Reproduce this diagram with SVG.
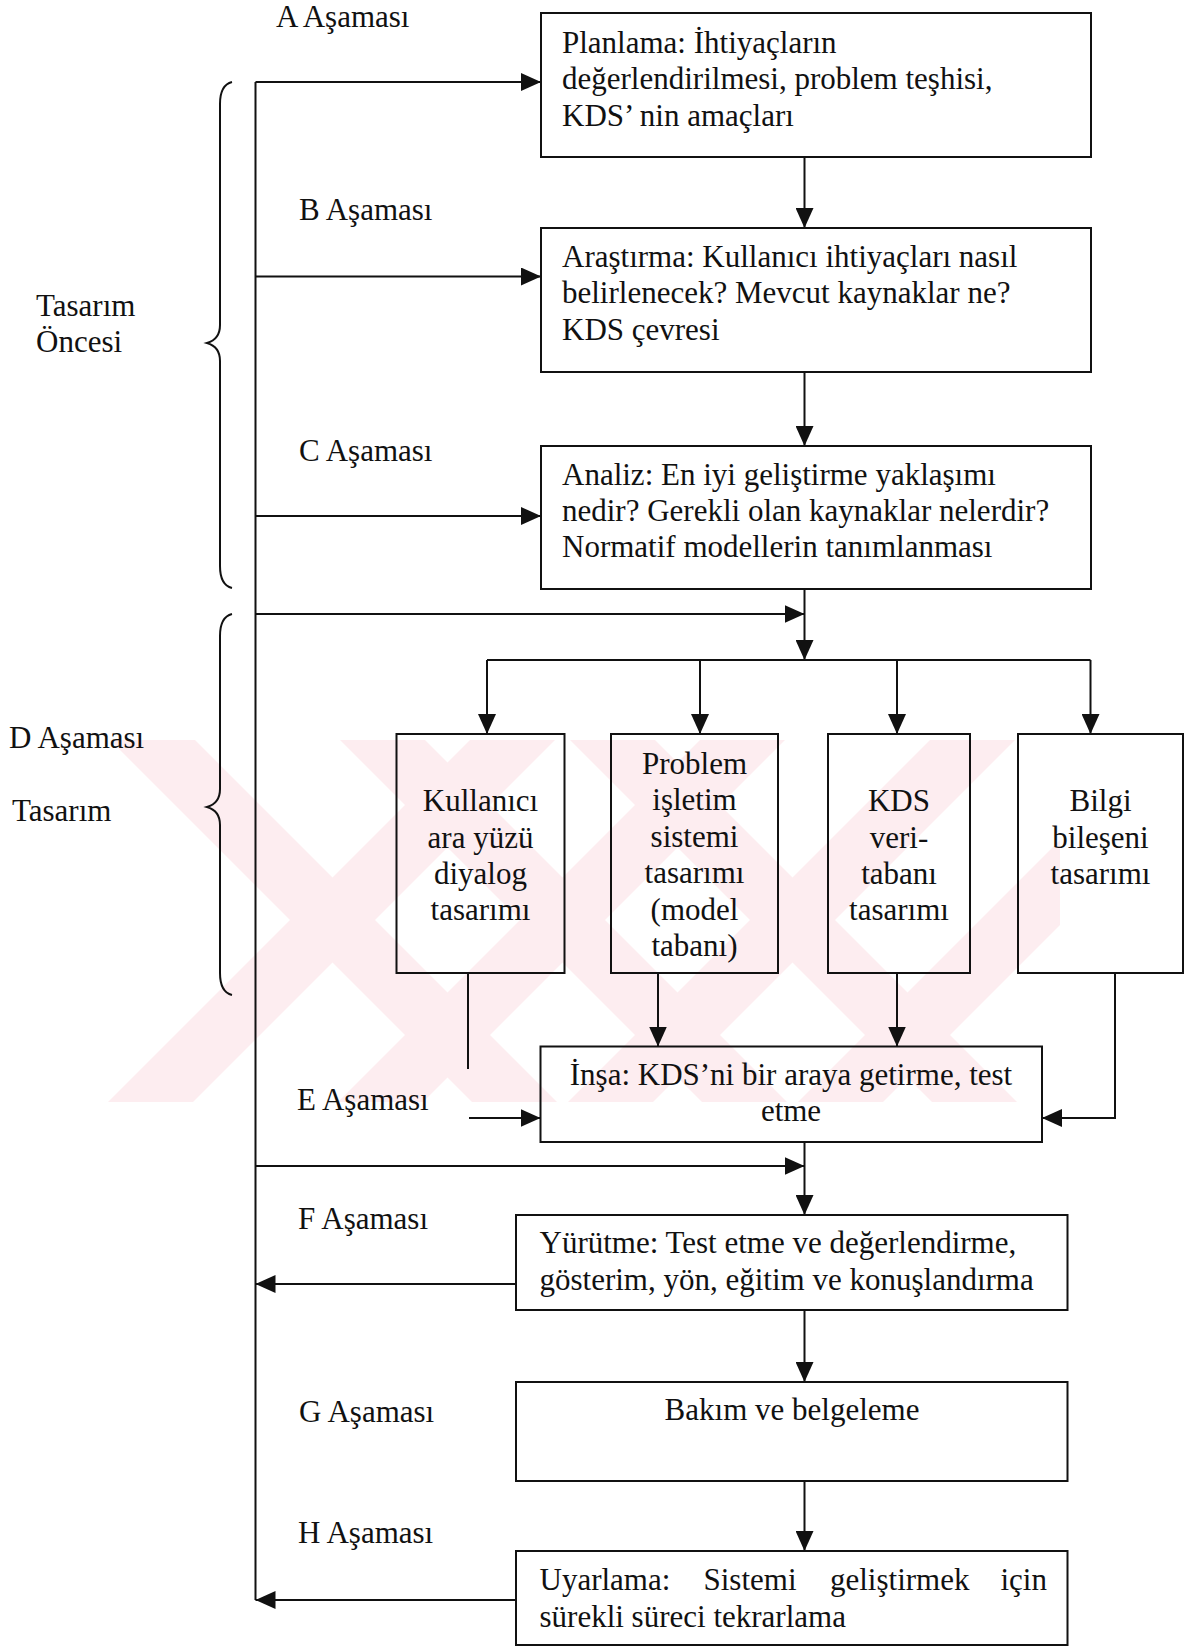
<svg xmlns="http://www.w3.org/2000/svg" width="1200" height="1649" viewBox="0 0 1200 1649">
<defs>
<style>
text{font-family:"Liberation Serif","Times New Roman",serif;font-size:31px;fill:#111}
.c{text-anchor:middle}
.box{fill:none;stroke:#111;stroke-width:2}
.ln{fill:none;stroke:#111;stroke-width:2}
.wm{fill:#fdedf0}
</style>
<marker id="ah" markerUnits="userSpaceOnUse" markerWidth="21" markerHeight="18" refX="20" refY="9" orient="auto">
<path d="M0,0 L20,9 L0,18 z" fill="#111"/>
</marker>
<clipPath id="wmclip"><rect x="100" y="740" width="960" height="362"/></clipPath>
</defs>
<rect width="1200" height="1649" fill="#fff"/>
<g id="watermark" clip-path="url(#wmclip)">
<polygon class="wm" points="110,740 195,740 557,1102 472,1102"/>
<polygon class="wm" points="340,740 425,740 787,1102 702,1102"/>
<polygon class="wm" points="570,740 655,740 1017,1102 932,1102"/>
<polygon class="wm" points="470,740 555,740 193,1102 108,1102"/>
<polygon class="wm" points="700,740 785,740 423,1102 338,1102"/>
<polygon class="wm" points="930,740 1015,740 653,1102 568,1102"/>
<polygon class="wm" points="1160,740 1245,740 883,1102 798,1102"/>
</g>
<g id="labels">
<text x="276" y="27">A Aşaması</text>
<text x="299" y="220">B Aşaması</text>
<text x="299" y="461">C Aşaması</text>
<text x="9" y="748">D Aşaması</text>
<text x="12" y="821">Tasarım</text>
<text x="36" y="316">Tasarım</text>
<text x="36" y="352">Öncesi</text>
<text x="297" y="1110">E Aşaması</text>
<text x="298" y="1229">F Aşaması</text>
<text x="299" y="1422">G Aşaması</text>
<text x="298" y="1543">H Aşaması</text>
</g>
<g id="braces">
<path class="ln" d="M232,82 C224,84 220,92 220,104 L220,325 C220,336 214,341 207,343 C214,345 220,350 220,361 L220,566 C220,578 224,586 232,588"/>
<path class="ln" d="M232,614 C224,616 220,624 220,636 L220,789 C220,800 214,805 207,807 C214,809 220,814 220,825 L220,973 C220,985 224,993 232,995"/>
</g>
<g id="connectors">
<path class="ln" d="M255.5,82 L255.5,1600"/>
<path class="ln" d="M255.5,82 L541,82" marker-end="url(#ah)"/>
<path class="ln" d="M255.5,276.5 L541,276.5" marker-end="url(#ah)"/>
<path class="ln" d="M255.5,516 L541,516" marker-end="url(#ah)"/>
<path class="ln" d="M255.5,614 L804.5,614" marker-end="url(#ah)"/>
<path class="ln" d="M804.5,157 L804.5,228" marker-end="url(#ah)"/>
<path class="ln" d="M804.5,372 L804.5,446" marker-end="url(#ah)"/>
<path class="ln" d="M804.5,589 L804.5,660" marker-end="url(#ah)"/>
<path class="ln" d="M487,660 L1090.5,660"/>
<path class="ln" d="M487,660 L487,734" marker-end="url(#ah)"/>
<path class="ln" d="M700,660 L700,734" marker-end="url(#ah)"/>
<path class="ln" d="M897,660 L897,734" marker-end="url(#ah)"/>
<path class="ln" d="M1090.5,660 L1090.5,734" marker-end="url(#ah)"/>
<path class="ln" d="M468,973 L468,1069"/>
<path class="ln" d="M469,1118 L540.5,1118" marker-end="url(#ah)"/>
<path class="ln" d="M658,973 L658,1046.5" marker-end="url(#ah)"/>
<path class="ln" d="M897,973 L897,1046.5" marker-end="url(#ah)"/>
<path class="ln" d="M1115,973 L1115,1118 L1042,1118" marker-end="url(#ah)"/>
<path class="ln" d="M255.5,1166 L804.5,1166" marker-end="url(#ah)"/>
<path class="ln" d="M804.5,1142 L804.5,1215" marker-end="url(#ah)"/>
<path class="ln" d="M516,1284 L255.5,1284" marker-end="url(#ah)"/>
<path class="ln" d="M804.5,1310 L804.5,1382" marker-end="url(#ah)"/>
<path class="ln" d="M804.5,1481 L804.5,1551" marker-end="url(#ah)"/>
<path class="ln" d="M516,1600 L255.5,1600" marker-end="url(#ah)"/>
</g>
<g id="nodeA">
<rect class="box" x="541" y="13" width="550" height="144"/>
<text x="562" y="53">Planlama: İhtiyaçların</text>
<text x="562" y="89">değerlendirilmesi, problem teşhisi,</text>
<text x="562" y="126">KDS’ nin amaçları</text>
</g>
<g id="nodeB">
<rect class="box" x="541" y="228" width="550" height="144"/>
<text x="562" y="267">Araştırma: Kullanıcı ihtiyaçları nasıl</text>
<text x="562" y="303">belirlenecek? Mevcut kaynaklar ne?</text>
<text x="562" y="340">KDS çevresi</text>
</g>
<g id="nodeC">
<rect class="box" x="541" y="446" width="550" height="143"/>
<text x="562" y="485">Analiz: En iyi geliştirme yaklaşımı</text>
<text x="562" y="521">nedir? Gerekli olan kaynaklar nelerdir?</text>
<text x="562" y="557">Normatif modellerin tanımlanması</text>
</g>
<g id="nodeD1">
<rect class="box" x="396.5" y="734" width="168" height="239"/>
<text class="c" x="480.5" y="811">Kullanıcı</text>
<text class="c" x="480.5" y="848">ara yüzü</text>
<text class="c" x="480.5" y="884">diyalog</text>
<text class="c" x="480.5" y="920">tasarımı</text>
</g>
<g id="nodeD2">
<rect class="box" x="611" y="734" width="167" height="239"/>
<text class="c" x="694.5" y="774">Problem</text>
<text class="c" x="694.5" y="810">işletim</text>
<text class="c" x="694.5" y="847">sistemi</text>
<text class="c" x="694.5" y="883">tasarımı</text>
<text class="c" x="694.5" y="920">(model</text>
<text class="c" x="694.5" y="956">tabanı)</text>
</g>
<g id="nodeD3">
<rect class="box" x="828" y="734" width="142" height="239"/>
<text class="c" x="899" y="811">KDS</text>
<text class="c" x="899" y="848">veri-</text>
<text class="c" x="899" y="884">tabanı</text>
<text class="c" x="899" y="920">tasarımı</text>
</g>
<g id="nodeD4">
<rect class="box" x="1018" y="734" width="165" height="239"/>
<text class="c" x="1100.5" y="811">Bilgi</text>
<text class="c" x="1100.5" y="848">bileşeni</text>
<text class="c" x="1100.5" y="884">tasarımı</text>
</g>
<g id="nodeE">
<rect class="box" x="540.5" y="1046.5" width="501.5" height="95.5"/>
<text class="c" x="791" y="1085">İnşa: KDS’ni bir araya getirme, test</text>
<text class="c" x="791" y="1121">etme</text>
</g>
<g id="nodeF">
<rect class="box" x="516" y="1215" width="551.5" height="95"/>
<text x="539.5" y="1253">Yürütme: Test etme ve değerlendirme,</text>
<text x="539.5" y="1290">gösterim, yön, eğitim ve konuşlandırma</text>
</g>
<g id="nodeG">
<rect class="box" x="516" y="1382" width="551.5" height="99"/>
<text class="c" x="792" y="1420">Bakım ve belgeleme</text>
</g>
<g id="nodeH">
<rect class="box" x="516" y="1551" width="551.5" height="94"/>
<text y="1590"><tspan x="539.5">Uyarlama:</tspan><tspan x="703.5">Sistemi</tspan><tspan x="830">geliştirmek</tspan><tspan x="1047" text-anchor="end">için</tspan></text>
<text x="539.5" y="1627">sürekli süreci tekrarlama</text>
</g>
</svg>
